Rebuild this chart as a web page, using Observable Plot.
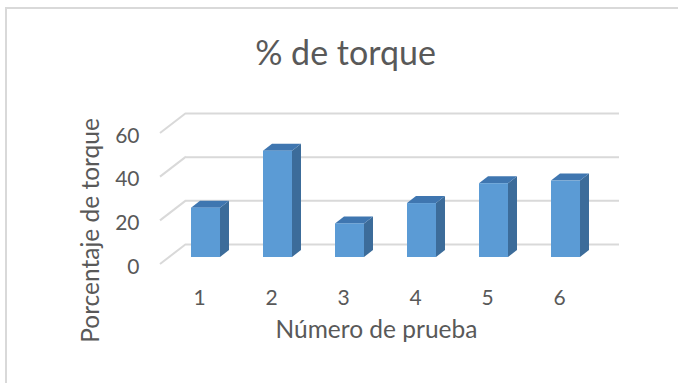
<!DOCTYPE html>
<html>
<head>
<meta charset="utf-8">
<script src="https://cdn.jsdelivr.net/npm/d3@7"></script>
<script src="https://cdn.jsdelivr.net/npm/@observablehq/plot@0.6"></script>
<style>
  html, body { margin: 0; padding: 0; background: #fff; }
  #wrap { position: relative; width: 678px; height: 383px; overflow: hidden; }
  #border { position: absolute; left: 5px; top: 7px; width: 700px; height: 400px;
            border-left: 2px solid #d9d9d9; border-top: 2px solid #d9d9d9; }
  svg { position: absolute; left: 0; top: 0; }
</style>
</head>
<body>
<div id="wrap"><div id="border"></div></div>
<script>
const trials = ["1", "2", "3", "4", "5", "6"];
const torque = [22.6, 48.7, 15.4, 24.7, 33.8, 35.0];
const yTicks = [0, 20, 40, 60];
const title = "% de torque";
const xTitle = "Número de prueba";
const yTitle = "Porcentaje de torque";

const data = trials.map((t, i) => ({trial: t, value: torque[i]}));

const textColor = "#595959";
const gridColor = "#d9d9d9";
const font = "Lato, 'Open Sans', sans-serif";

// 3D offsets (pixels)
const depthDx = 9, depthDy = -7;       // bar depth
const backDx = 17.3, backDy = -13;     // bar front plane -> back wall
const frontDx = -8.7, frontDy = 7;     // bar front plane -> floor front edge

function diagonals(index, scales, values, dims) {
  const g = d3.create("svg:g").attr("stroke", gridColor).attr("stroke-width", 2).attr("fill", "none");
  const x0 = dims.marginLeft;
  for (const v of yTicks) {
    const y = scales.y(v);
    g.append("line")
      .attr("x1", x0 + frontDx).attr("y1", y + frontDy)
      .attr("x2", x0 + backDx).attr("y2", y + backDy);
  }
  return g.node();
}

function barFaces(index, scales) {
  const g = d3.create("svg:g");
  const bw = scales.x.bandwidth();
  for (const d of data) {
    const x1 = scales.x(d.trial), x2 = x1 + bw;
    const yt = scales.y(d.value), yb = scales.y(0);
    g.append("polygon")
      .attr("fill", "#3c6c9a")
      .attr("points", [[x2, yt], [x2 + depthDx, yt + depthDy], [x2 + depthDx, yb + depthDy], [x2, yb]].join(" "));
    g.append("polygon")
      .attr("fill", "#3f76b0")
      .attr("points", [[x1, yt], [x1 + depthDx, yt + depthDy], [x2 + depthDx, yt + depthDy], [x2, yt]].join(" "));
  }
  return g.node();
}

const W = 678, H = 383;
const mL = 168.7, mR = 76.3, mT = 126, mB = 126;

const chart = Plot.plot({
  width: W,
  height: H,
  marginLeft: mL,
  marginRight: mR,
  marginTop: mT,
  marginBottom: mB,
  style: {fontFamily: font, background: "transparent", overflow: "visible"},
  x: {type: "band", domain: trials, paddingInner: 0.6, paddingOuter: 0.305, axis: null},
  y: {domain: [0, 60], axis: null},
  marks: [
    Plot.ruleY(yTicks, {dx: backDx, dy: backDy, stroke: gridColor, strokeWidth: 2}),
    diagonals,
    barFaces,
    Plot.barY(data, {x: "trial", y: "value", fill: "#5b9bd5"}),
    Plot.text(trials, {x: d => d, y: () => 0, dx: -6.5, dy: 40.5, text: d => d,
      fontSize: 21, fill: textColor}),
    Plot.text(yTicks, {y: d => d, frameAnchor: "left", dx: -29.7, dy: 9.5, textAnchor: "end",
      text: d => String(d), fontSize: 21, fill: textColor}),
    Plot.text([title], {frameAnchor: "top-left", dx: 345 - mL, dy: 54 - mT, text: d => d,
      textAnchor: "middle", lineAnchor: "middle", fontSize: 34, fill: textColor}),
    Plot.text([xTitle], {frameAnchor: "top-left", dx: 376 - mL, dy: 330 - mT, text: d => d,
      textAnchor: "middle", lineAnchor: "middle", fontSize: 24.5, fill: textColor}),
    Plot.text([yTitle], {frameAnchor: "top-left", dx: 91 - mL, dy: 230 - mT, rotate: -90, text: d => d,
      textAnchor: "middle", lineAnchor: "middle", fontSize: 24.5, fill: textColor})
  ]
});

document.getElementById("wrap").appendChild(chart);
</script>
</body>
</html>
